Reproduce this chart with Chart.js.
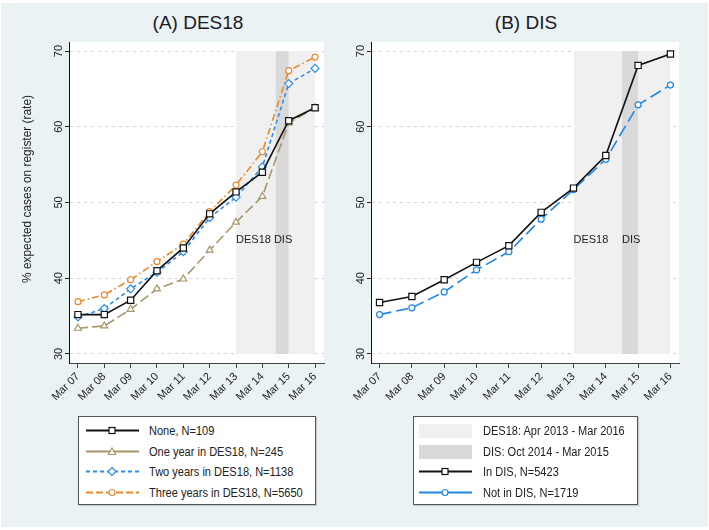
<!DOCTYPE html>
<html lang="en">
<head>
<meta charset="UTF-8">
<title>DES18 / DIS</title>
<script src="https://cdn.jsdelivr.net/npm/chart.js@4"></script>
<style>
  body { margin: 0; background: #fff; font-family: "Liberation Sans", Arial, sans-serif; color: #222; }
  #fig { position: absolute; left: 1px; top: 3px; width: 707px; height: 524px; background: #eaf2f3; }
  canvas { position: absolute; top: 0; }
  .title { position: absolute; top: 11px; width: 200px; text-align: center; font-size: 19px; line-height: 24px; color: #1a1a2a; }
  .legend { position: absolute; top: 416px; height: 87px; background: #fff; border: 1px solid #555; box-shadow: 1px 1px 1px rgba(0,0,0,0.15); }
  .legend .row { position: absolute; height: 20px; font-size: 12px; line-height: 20px; white-space: nowrap; }
  .legend svg { position: absolute; top: 0; }
  .legend span { position: absolute; top: 0; transform: scaleX(0.92); transform-origin: 0 50%; }
</style>
</head>
<body>
<div id="fig"></div>
<div class="title" style="left:98px">(A) DES18</div>
<div class="title" style="left:426px">(B) DIS</div>
<canvas id="chartA" width="340" height="410" style="left:0"></canvas>
<canvas id="chartB" width="379" height="410" style="left:330px"></canvas>
<div class="legend" id="legA" style="left:78px; width:236px"></div>
<div class="legend" id="legB" style="left:413px; width:223px"></div>
<script>
const months = ['Mar 07', 'Mar 08', 'Mar 09', 'Mar 10', 'Mar 11', 'Mar 12', 'Mar 13', 'Mar 14', 'Mar 15', 'Mar 16'];
const yTicks = [30, 40, 50, 60, 70];
const yTitle = '% expected cases on register (rate)';

// panel A: years spent in DES18
const noneVals = [35.2, 35.2, 37.1, 41.0, 44.0, 48.5, 51.4, 54.0, 60.8, 62.5];
const oneYearVals = [33.4, 33.7, 35.9, 38.6, 39.9, 43.7, 47.4, 50.8, 60.5, 62.5];
const twoYearVals = [34.9, 36.0, 38.6, 40.8, 43.5, 48.0, 50.7, 54.7, 65.7, 67.7];
const threeYearVals = [36.9, 37.8, 39.8, 42.2, 44.5, 48.8, 52.3, 56.7, 67.4, 69.2];

// panel B: DIS participation
const inDisVals = [36.8, 37.6, 39.8, 42.1, 44.3, 48.7, 51.9, 56.2, 68.1, 69.6];
const notInDisVals = [35.2, 36.1, 38.2, 41.1, 43.5, 47.8, 51.7, 55.7, 62.9, 65.5];

// shaded periods (x in month-index units) and their vertical span
const des18Period = [6, 9];
const disPeriod = [7.5, 8];
const shadeSpan = [30, 70];

const annotA = [{ x: 6, y: 45, text: 'DES18 DIS' }];
const annotB = [{ x: 6, y: 45, text: 'DES18' }, { x: 7.5, y: 45, text: 'DIS' }];

const FONT = '"Liberation Sans", Arial, sans-serif';
Chart.defaults.font.family = FONT;
Chart.defaults.color = '#222';

const C = {
  black: '#111111',
  olive: '#a8966b',
  blueA: '#2b8ef0',
  orange: '#e8892b',
  blueB: '#2186e6',
  light: '#f0f0f0',
  dark: '#d9d9d9',
};

function series(label, vals, color, dash, style, radius) {
  return {
    label,
    data: vals.map((v, i) => ({ x: i, y: v })),
    borderColor: color,
    backgroundColor: color,
    borderWidth: 1.6,
    borderDash: dash,
    pointStyle: style,
    pointRadius: radius,
    pointBorderColor: color,
    pointBackgroundColor: '#fff',
    pointBorderWidth: 1.2,
    tension: 0,
    fill: false,
    order: 1,
  };
}

function shade(period, color, order) {
  return {
    data: period.map(x => ({ x, y: shadeSpan[1] })),
    fill: { value: shadeSpan[0] },
    backgroundColor: color,
    borderColor: 'rgba(0,0,0,0)',
    borderWidth: 0,
    pointRadius: 0,
    order,
  };
}

const plotBg = {
  id: 'plotBg',
  beforeDraw(chart) {
    const { ctx, chartArea: a } = chart;
    ctx.save();
    ctx.fillStyle = '#fff';
    ctx.fillRect(a.left, a.top, a.right - a.left, a.bottom - a.top);
    ctx.restore();
  }
};

// y tick labels are vertical in the original, and the axis title sits a bit high
const yLabels = {
  id: 'yLabels',
  afterDraw(chart, args, opts) {
    const { ctx, chartArea, scales: { y } } = chart;
    ctx.save();
    ctx.font = '11px ' + FONT;
    ctx.fillStyle = '#222';
    ctx.textAlign = 'center';
    ctx.textBaseline = 'middle';
    yTicks.forEach(v => {
      ctx.save();
      ctx.translate(chartArea.left - 10, y.getPixelForValue(v));
      ctx.rotate(-Math.PI / 2);
      ctx.fillText(String(v), 0, 0);
      ctx.restore();
    });
    if (opts.title) {
      ctx.save();
      ctx.font = '13.5px ' + FONT;
      ctx.translate(27, 189);
      ctx.rotate(-Math.PI / 2);
      ctx.scale(188 / ctx.measureText(opts.title).width, 1);
      ctx.fillText(opts.title, 0, 0);
      ctx.restore();
    }
    ctx.restore();
  }
};

const notes = {
  id: 'notes',
  afterDatasetsDraw(chart, args, opts) {
    const { ctx, scales: { x, y } } = chart;
    ctx.save();
    ctx.font = '11px ' + FONT;
    ctx.fillStyle = '#222';
    ctx.textAlign = 'left';
    ctx.textBaseline = 'middle';
    (opts.items || []).forEach(n => ctx.fillText(n.text, x.getPixelForValue(n.x), y.getPixelForValue(n.y)));
    ctx.restore();
  }
};

function makeChart(id, datasets, cfg) {
  return new Chart(document.getElementById(id), {
    type: 'line',
    data: { datasets },
    plugins: [plotBg, yLabels, notes],
    options: {
      responsive: false,
      animation: false,
      events: [],
      layout: { padding: { top: 42, right: cfg.padRight, left: 0, bottom: 0 } },
      plugins: {
        legend: { display: false },
        tooltip: { enabled: false },
        notes: { items: cfg.notes },
        yLabels: { title: cfg.yTitle },
      },
      scales: {
        x: {
          type: 'linear',
          min: -cfg.xPad,
          max: months.length - 1 + cfg.xPad,
          afterBuildTicks: s => { s.ticks = months.map((_, i) => ({ value: i })); },
          afterFit: s => { s.height = 47; },
          ticks: {
            autoSkip: false, minRotation: 45, maxRotation: 45,
            font: { size: 11 }, color: '#222', padding: 2,
            callback: v => months[v],
          },
          grid: { drawOnChartArea: false, drawTicks: true, tickLength: 5, tickColor: '#444' },
          border: { display: true, color: '#444', width: 1 },
        },
        y: {
          type: 'linear',
          min: 28.81,
          max: 71.19,
          afterBuildTicks: s => { s.ticks = yTicks.map(v => ({ value: v })); },
          afterFit: s => { s.width = cfg.yWidth; },
          ticks: { display: false },
          grid: { color: '#d6d6d6', lineWidth: 1, tickLength: 4, tickColor: '#222' },
          border: { display: true, color: '#111', width: 1, dash: [3, 4] },
        },
      },
    },
  });
}

makeChart('chartA', [
  series('None, N=109', noneVals, C.black, [], 'rect', 4.4),
  series('One year in DES18, N=245', oneYearVals, C.olive, [10, 4], 'triangle', 4),
  series('Two years in DES18, N=1138', twoYearVals, C.blueA, [4, 3], 'rectRot', 4),
  series('Three years in DES18, N=5650', threeYearVals, C.orange, [7, 3, 1.5, 3], 'circle', 3),
  shade(disPeriod, C.dark, 11),
  shade(des18Period, C.light, 12),
], { padRight: 16, yWidth: 69, xPad: 0.34, yTitle: yTitle, notes: annotA });

makeChart('chartB', [
  series('In DIS, N=5423', inDisVals, C.black, [], 'rect', 4.4),
  series('Not in DIS, N=1719', notInDisVals, C.blueB, [12, 5], 'circle', 3),
  shade(disPeriod, C.dark, 11),
  shade(des18Period, C.light, 12),
], { padRight: 30, yWidth: 41, xPad: 0.265, notes: annotB });

// legends
function marker(kind, color) {
  const s = 'fill="#fff" stroke="' + color + '" stroke-width="1.2"';
  if (kind === 'rect') return '<rect x="23" y="6.5" width="6" height="6" ' + s + '/>';
  if (kind === 'triangle') return '<polygon points="26,6 29.5,12.5 22.5,12.5" ' + s + '/>';
  if (kind === 'rectRot') return '<polygon points="26,5.5 30,9.5 26,13.5 22,9.5" ' + s + '/>';
  if (kind === 'circle') return '<circle cx="26" cy="9.5" r="3" ' + s + '/>';
  return '';
}

function lineSym(color, dash, kind) {
  return '<line x1="0" y1="9.5" x2="53" y2="9.5" stroke="' + color +
    '" stroke-width="1.8" stroke-dasharray="' + (dash.length ? dash.join(' ') : 'none') + '"/>' +
    marker(kind, color);
}

function boxSym(color) {
  return '<rect x="0" y="3" width="53" height="14" fill="' + color + '"/>';
}

const legendA = [
  ['None, N=109', lineSym(C.black, [], 'rect')],
  ['One year in DES18, N=245', lineSym(C.olive, [], 'triangle')],
  ['Two years in DES18, N=1138', lineSym(C.blueA, [4, 3], 'rectRot')],
  ['Three years in DES18, N=5650', lineSym(C.orange, [7, 3], 'circle')],
];
const legendB = [
  ['DES18: Apr 2013 - Mar 2016', boxSym(C.light)],
  ['DIS: Oct 2014 - Mar 2015', boxSym(C.dark)],
  ['In DIS, N=5423', lineSym(C.black, [], 'rect')],
  ['Not in DIS, N=1719', lineSym(C.blueB, [], 'circle')],
];

function fillLegend(id, rows, symLeft, textLeft) {
  document.getElementById(id).innerHTML = rows.map((r, i) =>
    '<div class="row" style="left:0; top:' + (4 + i * 20.7) + 'px; width:100%">' +
      '<svg style="left:' + symLeft + 'px" width="53" height="20">' + r[1] + '</svg>' +
      '<span style="left:' + textLeft + 'px">' + r[0] + '</span>' +
    '</div>'
  ).join('');
}
fillLegend('legA', legendA, 7, 70);
fillLegend('legB', legendB, 5, 69);
</script>
</body>
</html>
